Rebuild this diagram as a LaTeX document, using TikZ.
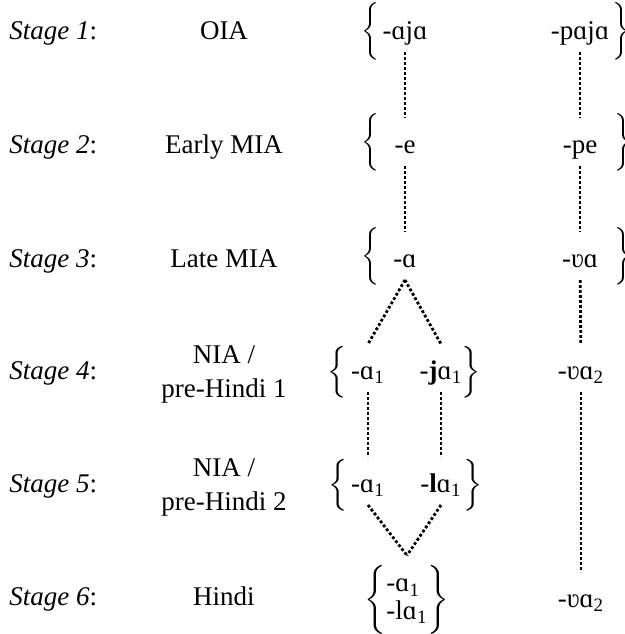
\documentclass[tikz,border=0pt]{standalone}
\usepackage{amsmath}
\usepackage{fontspec}
\setmainfont{Liberation Serif}
\usetikzlibrary{positioning}

\newcommand{\ix}[1]{\textsubscript{#1}}
\newcommand{\openbr}[1]{$\left\{\vcenter{\hrule height #1 width 0pt}\right.$}
\newcommand{\closebr}[1]{$\left.\vcenter{\hrule height #1 width 0pt}\right\}$}
\delimiterfactor=1000
\delimitershortfall=0pt

\begin{document}
\begin{tikzpicture}[
    x=0.5pt, y=-0.5pt,
    font=\fontsize{13.5}{17}\selectfont,
    stage/.style={anchor=base west, inner sep=0},
    period/.style={anchor=base, inner sep=0, align=center},
    form/.style={anchor=base, inner sep=0, outer sep=3.5pt, text height=14pt, text depth=3pt},
    brace/.style={inner sep=0, font=\fontsize{12.5}{15}\selectfont},
    tallbrace/.style={inner sep=0, font=\fontsize{13.6}{16}\selectfont},
    link/.style={line width=1.4pt, dash pattern=on 1.4pt off 1.1pt}
]
    \useasboundingbox (0,0) rectangle (625,634);

    % Stages
    \foreach \n/\y in {1/39, 2/153, 3/267, 4/379, 5/492, 6/605} {
        \node[stage] (st\n) at (9,\y) {\textit{Stage \n}:};
    }

    % Periods
    \node[period] (per1) at (224,39) {OIA};
    \node[period] (per2) at (224,153) {Early MIA};
    \node[period] (per3) at (224,267) {Late MIA};
    \node[period] (per4) at (224,397) {NIA /\\pre-Hindi 1};
    \node[period] (per5) at (224,510) {NIA /\\pre-Hindi 2};
    \node[period] (per6) at (224,605) {Hindi};

    % Forms
    \node[form] (s1a) at (405,39) {-ɑjɑ};
    \node[form] (s1b) at (580,39) {-pɑjɑ};
    \node[form] (s2a) at (405,153) {-e};
    \node[form] (s2b) at (580,153) {-pe};
    \node[form] (s3a) at (405,267) {-ɑ};
    \node[form] (s3b) at (580,267) {-ʋɑ};
    \node[form] (s4a) at (368,379) {-ɑ\ix{1}};
    \node[form] (s4j) at (441,379) {-\textbf{j}ɑ\ix{1}};
    \node[form] (s4b) at (581,379) {-ʋɑ\ix{2}};
    \node[form] (s5a) at (368,492) {-ɑ\ix{1}};
    \node[form] (s5l) at (441,492) {-\textbf{l}ɑ\ix{1}};
    \node[inner sep=0, outer sep=5pt] (s6a) at (407,600)
        {\renewcommand\arraystretch{0.8}$\left\{\vcenter{\hrule height 32pt width 0pt}
         \begin{tabular}{@{}l@{}}-ɑ\ix{1}\\-lɑ\ix{1}\end{tabular}\right\}$};
    \node[form] (s6b) at (581,607) {-ʋɑ\ix{2}};

    % Braces
    \node[brace] (lb1) at (372,31) {\openbr{22pt}};
    \node[brace] (rb1) at (620,31) {\closebr{22pt}};
    \node[brace] (lb2) at (372,142) {\openbr{22pt}};
    \node[brace] (rb2) at (622,142) {\closebr{22pt}};
    \node[brace] (lb3) at (372,256) {\openbr{22pt}};
    \node[brace] (rb3) at (622,256) {\closebr{22pt}};
    \node[tallbrace] (lb4) at (338,372) {\openbr{24pt}};
    \node[tallbrace] (rb4) at (470,372) {\closebr{24pt}};
    \node[tallbrace] (lb5) at (339,485) {\openbr{24pt}};
    \node[tallbrace] (rb5) at (472,485) {\closebr{24pt}};

    % Links
    \draw[link] (s1a) -- (s2a);
    \draw[link] (s1b) -- (s2b);
    \draw[link] (s2a) -- (s3a);
    \draw[link] (s2b) -- (s3b);
    \draw[link] (s3a.south) -- (s4a.north);
    \draw[link] (s3a.south) -- (s4j.north);
    \draw[link] (s3b) -- (s4b);
    \draw[link] (s4a) -- (s5a);
    \draw[link] (s4j) -- (s5l);
    \draw[link] (s4b) -- (s6b);
    \draw[link] (s5a.south) -- (s6a.north);
    \draw[link] (s5l.south) -- (s6a.north);

\end{tikzpicture}
\end{document}
